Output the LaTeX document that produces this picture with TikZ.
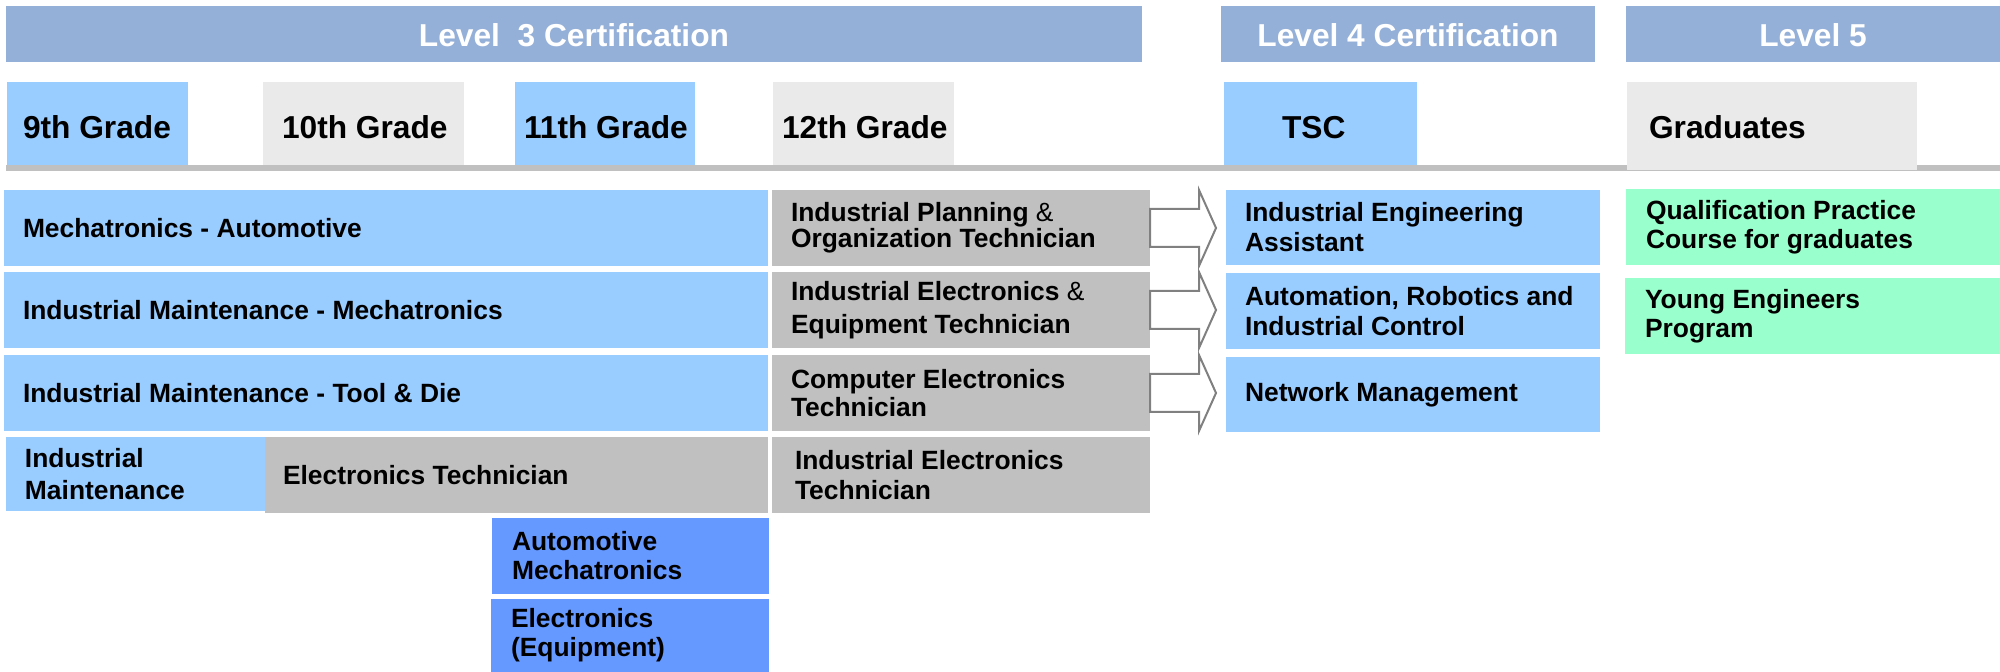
\documentclass[tikz,border=0pt]{standalone}
\usepackage{fontspec}
\setmainfont{Liberation Sans}
\usetikzlibrary{calc}
\definecolor{lvl}{HTML}{95B0D8}
\definecolor{cblue}{HTML}{99CCFF}
\definecolor{cgray}{HTML}{C0C0C0}
\definecolor{lgray}{HTML}{EAEAEA}
\definecolor{dblue}{HTML}{6699FF}
\definecolor{cgreen}{HTML}{99FFCC}
\definecolor{arrgray}{HTML}{808080}
\newcommand\cellbox[6]{\node[cell=#2, minimum width={(#5-#3)*0.5pt}, minimum height={(#6-#4)*0.5pt}] (#1) at ({(#3+#5)/2},{(#4+#6)/2}) {};}
\newcommand\celltext[5]{\node[txt, font=\bfseries\fontsize{13.2}{#3}\selectfont] (#1) at ([xshift=#4pt]#2.west) {#5};}
\begin{document}
\begin{tikzpicture}[x=0.5pt,y=-0.5pt,
  every node/.style={inner sep=0pt, outer sep=0pt},
  cell/.style={rectangle, draw=none, fill=#1},
  txt/.style={align=left, text=black, anchor=west},
  lvltxt/.style={text=white, anchor=base, font=\bfseries\fontsize{15.85}{18}\selectfont},
  grtxt/.style={text=black, anchor=base west, font=\bfseries\fontsize{15.85}{18}\selectfont},
  arr/.style={draw=arrgray, fill=white, line width=1pt, line join=miter}]
\useasboundingbox (0,0) rectangle (2000,672);

% level headers
\cellbox{L3}{lvl}{6}{6}{1142}{62}
\cellbox{L4}{lvl}{1221}{6}{1595}{62}
\cellbox{L5}{lvl}{1626}{6}{2000}{62}
\node[lvltxt] (L3t) at (574,47) {Level\ \ 3 Certification};
\node[lvltxt] (L4t) at (1408,47) {Level 4 Certification};
\node[lvltxt] (L5t) at (1813,47) {Level 5};

% separator line
\fill[cgray] (6,165) rectangle (2000,171);

% grade boxes
\cellbox{G9}{cblue}{7}{82}{188}{165}
\cellbox{G10}{lgray}{263}{82}{464}{165}
\cellbox{G11}{cblue}{515}{82}{695}{165}
\cellbox{G12}{lgray}{773}{82}{954}{165}
\cellbox{TSC}{cblue}{1224}{82}{1417}{165}
\cellbox{GR}{lgray}{1627}{82}{1917}{170}
\node[grtxt] (G9t) at (23,139) {9th Grade};
\node[grtxt] (G10t) at (282,139) {10th Grade};
\node[grtxt] (G11t) at (524,139) {11th Grade};
\node[grtxt] (G12t) at (782,139) {12th Grade};
\node[grtxt] (TSCt) at (1282,139) {TSC};
\node[grtxt] (GRt) at (1649,139) {Graduates};

% rows
\cellbox{r1}{cblue}{4}{190}{768}{266}
\cellbox{g1}{cgray}{772}{190}{1150}{266}
\cellbox{r2}{cblue}{4}{272}{768}{348}
\cellbox{g2}{cgray}{772}{272}{1150}{348}
\cellbox{r3}{cblue}{4}{355}{768}{431}
\cellbox{g3}{cgray}{772}{355}{1150}{431}
\cellbox{r4a}{cblue}{6}{437}{265}{511}
\cellbox{r4b}{cgray}{265}{437}{768}{513}
\cellbox{g4}{cgray}{772}{437}{1150}{513}
\cellbox{r5}{dblue}{492}{518}{769}{594}
\cellbox{r6}{dblue}{491}{599}{769}{672}
\cellbox{t1}{cblue}{1226}{190}{1600}{265}
\cellbox{t2}{cblue}{1226}{273}{1600}{349}
\cellbox{t3}{cblue}{1226}{357}{1600}{432}
\cellbox{q1}{cgreen}{1626}{189}{2000}{265}
\cellbox{q2}{cgreen}{1625}{278}{2000}{354}

% block arrows
\foreach \k in {1,2,3}{
  \draw[arr] ($(g\k.east)+(0,-19)$) -- ++(49,0) -- ($(g\k.north east)+(49,0)$)
    -- ($(g\k.east)+(66,0)$) -- ($(g\k.south east)+(49,0)$)
    -- ($(g\k.east)+(49,19)$) -- ($(g\k.east)+(0,19)$) -- cycle;
}

% texts
\celltext{r1t}{r1}{14.5}{9.5}{Mechatronics - Automotive}
\celltext{r2t}{r2}{14.5}{9.5}{Industrial Maintenance - Mechatronics}
\celltext{r3t}{r3}{14.5}{9.5}{Industrial Maintenance - Tool \& Die}
\celltext{r4at}{r4a}{16}{9.5}{Industrial\\Maintenance}
\celltext{r4bt}{r4b}{14.5}{9}{Electronics Technician}
\celltext{g1t}{g1}{13}{9.5}{Industrial Planning {\mdseries\&}\\Organization Technician}
\celltext{g2t}{g2}{16.5}{9.5}{Industrial Electronics {\mdseries\&}\\Equipment Technician}
\celltext{g3t}{g3}{14}{9.5}{Computer Electronics\\Technician}
\celltext{g4t}{g4}{15}{11.5}{Industrial Electronics\\Technician}
\celltext{r5t}{r5}{14.5}{10}{Automotive\\Mechatronics}
\celltext{r6t}{r6}{14.5}{10}{Electronics\\(Equipment)}
\celltext{t1t}{t1}{15}{9.5}{Industrial Engineering\\Assistant}
\celltext{t2t}{t2}{15}{9.5}{Automation, Robotics and\\Industrial Control}
\celltext{t3t}{t3}{15}{9.5}{Network Management}
\celltext{q1t}{q1}{14.5}{10}{Qualification Practice\\Course for graduates}
\celltext{q2t}{q2}{14.5}{10}{Young Engineers\\Program}
\end{tikzpicture}
\end{document}
